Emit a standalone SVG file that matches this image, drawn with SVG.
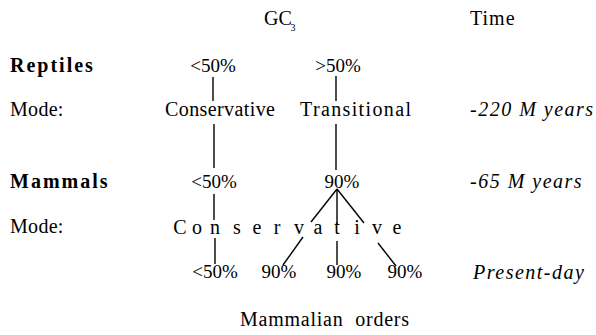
<svg xmlns="http://www.w3.org/2000/svg" width="596" height="335" viewBox="0 0 596 335">
<style>
text{font-family:"Liberation Serif","Times New Roman",serif;fill:#000;font-size:20px}
.b{font-weight:bold;letter-spacing:2px}
.pc{font-size:19px;text-anchor:middle}
.it{font-style:italic;letter-spacing:1.5px}
.c line{stroke:#000;stroke-width:1.4;stroke-linecap:butt}
</style>
<rect width="596" height="335" fill="#fff"/>
<g id="header-gc3"><text x="264" y="25" font-size="17">GC<tspan x="290.5" y="31" font-size="10">3</tspan></text></g>
<g id="header-time"><text x="470" y="25" letter-spacing="1">Time</text></g>
<g id="label-reptiles"><text class="b" x="10" y="72">Reptiles</text></g>
<g id="label-mode1"><text x="10" y="116" letter-spacing="0.3">Mode:</text></g>
<g id="label-mammals"><text class="b" x="10" y="188">Mammals</text></g>
<g id="label-mode2"><text x="10" y="233" letter-spacing="0.3">Mode:</text></g>
<g id="r-lt50"><text class="pc" x="213" y="72">&lt;50%</text></g>
<g id="r-gt50"><text class="pc" x="338" y="72">&gt;50%</text></g>
<g id="mode-conservative"><text x="165" y="116" textLength="110" lengthAdjust="spacing">Conservative</text></g>
<g id="mode-transitional"><text x="300" y="116" textLength="111" lengthAdjust="spacing">Transitional</text></g>
<g id="m-lt50"><text class="pc" x="214" y="188">&lt;50%</text></g>
<g id="m-90"><text class="pc" x="342" y="188">90%</text></g>
<g id="mode-conservative2"><text y="234" text-anchor="middle" x="180 197 215 237 257 277 299 318 337 357 377 397">Conservative</text></g>
<g id="p-lt50"><text class="pc" x="215" y="278">&lt;50%</text></g>
<g id="p-90a"><text class="pc" x="279" y="278">90%</text></g>
<g id="p-90b"><text class="pc" x="344" y="278">90%</text></g>
<g id="p-90c"><text class="pc" x="405" y="278">90%</text></g>
<g id="t-220"><text class="it" x="470" y="116">-220  M years</text></g>
<g id="t-65"><text class="it" x="470" y="188">-65  M years</text></g>
<g id="t-present"><text class="it" x="473" y="279">Present-day</text></g>
<g id="footer"><text x="240" y="326" textLength="169" lengthAdjust="spacing" word-spacing="6">Mammalian orders</text></g>
<g id="connectors" class="c">
<line x1="213" y1="77" x2="213" y2="101"/>
<line x1="336" y1="76" x2="336" y2="101"/>
<line x1="214" y1="124" x2="214" y2="168"/>
<line x1="336" y1="124" x2="336" y2="170"/>
<line x1="214" y1="194" x2="214" y2="220"/>
<line x1="215" y1="238" x2="215" y2="264"/>
<line x1="337" y1="189" x2="311" y2="222"/>
<line x1="337" y1="190" x2="337" y2="224"/>
<line x1="337" y1="189" x2="364" y2="223"/>
<line x1="303" y1="237" x2="283" y2="265"/>
<line x1="337" y1="241" x2="337" y2="265"/>
<line x1="378" y1="243" x2="396" y2="266"/>
</g>
</svg>
